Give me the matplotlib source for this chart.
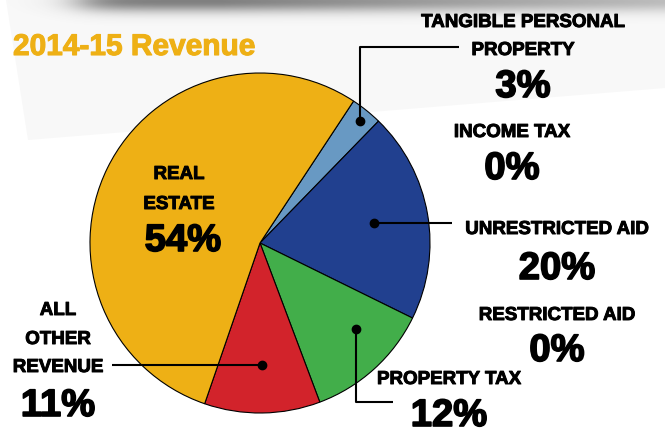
import numpy as np
import matplotlib
matplotlib.use('Agg')
import matplotlib.pyplot as plt
import matplotlib.patheffects as pe
from matplotlib.patches import Polygon

# Revenue shares (percent), in the order they run clockwise round the pie
categories = ['TANGIBLE PERSONAL\nPROPERTY', 'INCOME TAX', 'UNRESTRICTED AID',
              'RESTRICTED AID', 'PROPERTY TAX', 'ALL\nOTHER\nREVENUE',
              'REAL\nESTATE']
shares = [3, 0, 20, 0, 12, 11, 54]
pct_labels = ['3%', '0%', '20%', '0%', '12%', '11%', '54%']
colors = ['#6899c3', '#6899c3', '#21408f', '#21408f', '#42ae4a', '#d2232b', '#eeb015']

title = '2014-15 Revenue'

W, H = 665, 432
FONT = ['Liberation Sans', 'DejaVu Sans']


def Y(y):
    # pixel row (from top) -> data y
    return H - y


fig = plt.figure(figsize=(W / 100, H / 100), dpi=100)
ax = fig.add_axes([0, 0, 1, 1])

# paper background + shadow at the top
ax.add_patch(Polygon([(6, Y(0)), (W, Y(0)), (W, Y(88)), (28, Y(140))],
                     closed=True, color='#f8f8f8', zorder=0, lw=0))
xs = np.linspace(0, W, 400)
ys = np.linspace(0, 32, 60)
hx = 1 / (1 + np.exp(-(xs - 80) / 14)) * (0.7 - 0.35 * np.clip((xs - 220) / 445, 0, 1))
vy = np.exp(-((ys - 1) / 11) ** 2)
shadow = np.zeros((len(ys), len(xs), 4))
shadow[..., :3] = 0.3
shadow[..., 3] = np.outer(vy, hx)
ax.imshow(shadow, extent=(0, W, Y(32), Y(0)), origin='upper', aspect='auto', zorder=0.5)

# pie: drop the empty slices so they don't add edges
shown = [i for i, v in enumerate(shares) if v > 0]
wedges, _ = ax.pie([shares[i] for i in shown], colors=[colors[i] for i in shown],
                   startangle=90 - 33.4, counterclock=False,
                   center=(260, Y(243)), radius=170, frame=True,
                   wedgeprops=dict(edgecolor='black', linewidth=0.8))
wedge_of = dict(zip(shown, wedges))


def anchor(i, frac, rfrac):
    w = wedge_of[i]
    a = np.deg2rad(w.theta1 + frac * (w.theta2 - w.theta1))
    cx, cy = w.center
    return cx + rfrac * w.r * np.cos(a), cy + rfrac * w.r * np.sin(a)


def leader(i, frac, rfrac, path):
    x0, y0 = anchor(i, frac, rfrac)
    px = [x0] + [p[0] if p[0] is not None else x0 for p in path]
    py = [y0] + [Y(p[1]) if p[1] is not None else y0 for p in path]
    ax.plot(px, py, color='black', lw=1.5, zorder=4, solid_capstyle='butt')
    ax.plot(x0, y0, 'o', color='black', ms=6, zorder=5)


leader(0, 0.45, 0.93, [(None, 47), (459, 47)])
leader(2, 0.5, 0.68, [(452, None)])
leader(4, 0.64, 0.76, [(None, 402), (393, 402)])
leader(5, 0.5, 0.72, [(112, None)])

# label positions (pixel x, baselines of each name line, baseline of percent)
label_pos = {
    0: (523, [27, 55], 97),
    1: (512, [137], 179),
    2: (557, [234], 279),
    3: (557, [320], 361),
    4: (449, [384], 426),
    5: (58, [315, 344, 372], 416),
    6: (179, [179, 209], 251),
}
heavy = [pe.withStroke(linewidth=0.7, foreground='black')]
heavier = [pe.withStroke(linewidth=1.2, foreground='black')]
for i, (x, lines, pb) in label_pos.items():
    for txt, b in zip(categories[i].split('\n'), lines):
        ax.text(x, Y(b), txt, ha='center', va='baseline', fontsize=13.5,
                fontweight='bold', family=FONT, color='black', zorder=6,
                path_effects=heavy)
    ax.text(x + (4 if i == 6 else 0), Y(pb), pct_labels[i], ha='center', va='baseline',
            fontsize=27.5, fontweight='bold', family=FONT, color='black', zorder=6,
            path_effects=heavier)

ax.text(13, Y(55), title, ha='left', va='baseline', fontsize=21.5,
        fontweight='bold', family=FONT, color='#eeb015', zorder=6,
        path_effects=[pe.withStroke(linewidth=0.8, foreground='#eeb015')])

ax.set_xlim(0, W)
ax.set_ylim(0, H)
ax.set_aspect('auto')
ax.axis('off')

fig.savefig('out.png', dpi=100, facecolor='white')
